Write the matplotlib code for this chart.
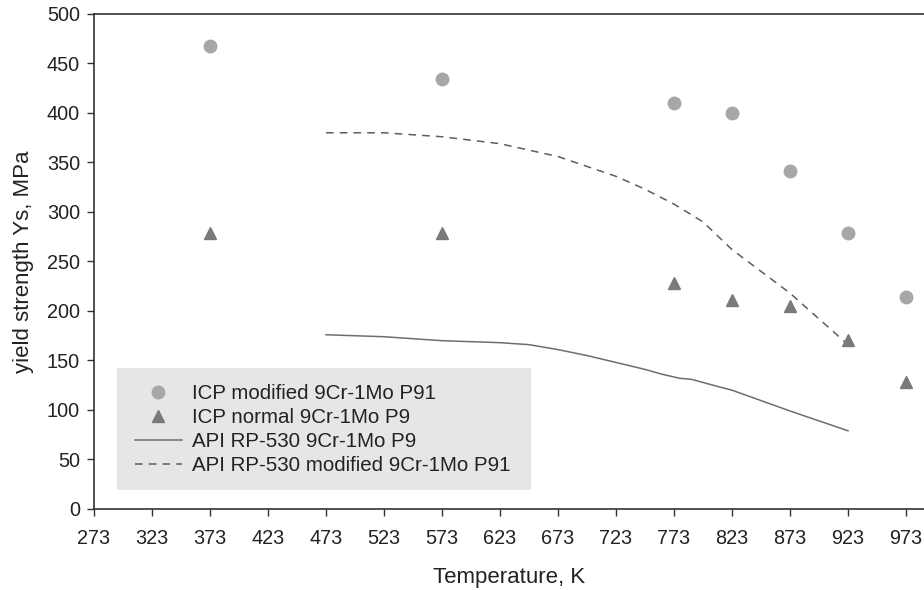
import matplotlib

matplotlib.use("Agg")
import matplotlib.pyplot as plt
from matplotlib.patches import Rectangle

plt.rcParams["font.family"] = ["Liberation Sans", "DejaVu Sans"]

# ICP test points
icp_temp = [373, 573, 773, 823, 873, 923, 973]
icp_p91 = [468, 434, 410, 400, 341, 279, 214]
icp_p9 = [279, 279, 228, 211, 205, 171, 128]

# API RP-530 curves
api_p9_temp = [473, 523, 573, 623, 648, 673, 698, 723, 748, 763, 778, 788, 813, 823, 873, 923]
api_p9 = [176, 174, 170, 168, 166, 161, 155, 148, 141, 136, 132, 131, 123, 120, 99, 79]
api_p91_temp = [473, 523, 573, 623, 673, 723, 748, 773, 798, 823, 848, 873, 898, 923]
api_p91 = [380, 380, 376, 369, 356, 336, 323, 308, 290, 262, 240, 218, 192, 166]

xticks = list(range(273, 974, 50))
yticks = list(range(0, 501, 50))

fig = plt.figure(figsize=(9.24, 5.9), dpi=100)
ax = fig.add_axes([0.1017, 0.1373, 0.8983, 0.839])

ax.plot(icp_temp, icp_p91, "o", color="#a7a7a9", markersize=9,
        label="ICP modified 9Cr-1Mo P91", zorder=3)
ax.plot(icp_temp, icp_p9, "^", color="#7a7a7c", markersize=9,
        label="ICP normal 9Cr-1Mo P9", zorder=3)
ax.plot(api_p9_temp, api_p9, "-", color="#6e6e70", linewidth=1.1,
        label="API RP-530 9Cr-1Mo P9")
ax.plot(api_p91_temp, api_p91, "--", color="#5e5e60", linewidth=1.1,
        dashes=(5, 4), label="API RP-530 modified 9Cr-1Mo P91")

ax.set_xlim(273, 988.5)
ax.set_ylim(0, 500)
ax.set_xticks(xticks)
ax.set_yticks(yticks)
ax.tick_params(direction="out", length=5, width=1, colors="#333333",
               labelsize=14.3, labelcolor="#222222")
ax.tick_params(axis="x", pad=9.2)
ax.tick_params(axis="y", pad=5)
for side in ("left", "bottom", "top"):
    ax.spines[side].set_color("#333333")
    ax.spines[side].set_linewidth(1.2)
ax.spines["right"].set_visible(False)

ax.set_xlabel("Temperature, K", fontsize=16, color="#222222", labelpad=14)
ax.set_ylabel("yield strength Ys, MPa", fontsize=16, color="#222222", labelpad=9)

# legend background panel
ax.add_patch(Rectangle((0.0277, 0.0384), 0.4988, 0.2465, transform=ax.transAxes,
                       facecolor="#e6e6e8", edgecolor="none", zorder=1))

leg = ax.legend(loc="upper left", bbox_to_anchor=(0.0494, 0.252), fontsize=14.8,
                frameon=False, handlelength=2.28, handletextpad=0.5,
                borderpad=0, labelspacing=0.245, borderaxespad=0)
for txt in leg.get_texts():
    txt.set_color("#222222")

fig.savefig("out.png", dpi=100)
